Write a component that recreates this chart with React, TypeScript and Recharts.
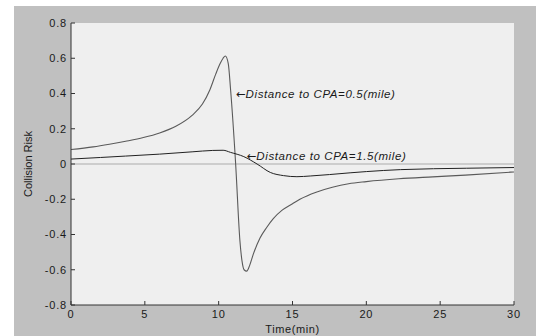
import { LineChart, Line, XAxis, YAxis, CartesianGrid, ReferenceLine, ReferenceDot } from "recharts";

// time (min) and collision risk
const timeNear = [0, 1.5, 2.6, 3.7, 4.9, 6, 7.1, 8.2, 8.9, 9.4, 9.8, 10.1, 10.3, 10.45, 10.65, 10.81, 11.15, 11.44, 11.58, 11.72, 11.9, 12.1, 12.34, 12.8, 13.25, 13.7, 14.3, 15, 15.5, 16.6, 17.7, 18.8, 20, 22.2, 24.5, 26.7, 30];
const riskNear = [0.082, 0.097, 0.112, 0.129, 0.15, 0.176, 0.214, 0.276, 0.34, 0.42, 0.51, 0.57, 0.6, 0.613, 0.57, 0.418, 0.0, -0.437, -0.55, -0.6, -0.608, -0.575, -0.513, -0.42, -0.36, -0.31, -0.262, -0.225, -0.2, -0.16, -0.132, -0.112, -0.1, -0.084, -0.073, -0.063, -0.045];

const timeFar = [0, 2, 3.7, 6, 8.2, 9.6, 10.3, 10.8, 11.7, 12.6, 13.5, 14.4, 15.3, 16.2, 17.5, 18.9, 20, 22.3, 26.8, 30];
const riskFar = [0.028, 0.037, 0.045, 0.056, 0.069, 0.077, 0.078, 0.066, 0.042, 0.0, -0.048, -0.066, -0.072, -0.068, -0.06, -0.05, -0.043, -0.032, -0.024, -0.02];

const xTicks = [0, 5, 10, 15, 20, 25, 30];
const yTicks = [-0.8, -0.6, -0.4, -0.2, 0, 0.2, 0.4, 0.6, 0.8];

const labelNear = "Distance to CPA=0.5(mile)";
const labelFar = "Distance to CPA=1.5(mile)";

const nearData = timeNear.map((t, i) => ({ t, risk: riskNear[i] }));
const farData = timeFar.map((t, i) => ({ t, risk: riskFar[i] }));

const font = "Liberation Sans, Arial, sans-serif";
const tickFont = { fontSize: 11, fill: "#1a1a1a", fontFamily: font, letterSpacing: 0.8 };

function noteLabel(text: string) {
  return (props: any) => {
    const vb = props.viewBox || {};
    return (
      <text x={vb.x} y={vb.y} dy="0.35em" fontSize={11.5} fontStyle="italic" fontFamily={font} fill="#1a1a1a">
        <tspan fontFamily="DejaVu Sans" fontStyle="normal">{"\u2190"}</tspan>
        <tspan letterSpacing={0.6}>{text}</tspan>
      </text>
    );
  };
}

function yTitle(props: any) {
  const vb = props.viewBox || {};
  const cy = vb.y + vb.height / 2;
  return (
    <text
      x={14}
      y={cy}
      transform={`rotate(-90, 14, ${cy})`}
      textAnchor="middle"
      dominantBaseline="central"
      fontSize={11}
      fontFamily={font}
      fill="#1a1a1a"
    >
      Collision Risk
    </text>
  );
}

export default function App() {
  return (
    <div style={{ position: "absolute", left: 0, top: 0, width: 536, height: 336, background: "#ffffff" }}>
      <div style={{ position: "absolute", left: 14, top: 6, width: 522, height: 330, background: "#c0c0c0" }}>
        <LineChart width={522} height={330} margin={{ top: 17, right: 22, bottom: 0, left: 0 }}>
          <CartesianGrid horizontal={false} vertical={false} fill="#efefef" />
          <XAxis
            xAxisId="bottom"
            dataKey="t"
            type="number"
            domain={[0, 30]}
            ticks={xTicks}
            interval={0}
            height={31}
            tickSize={-4}
            tickMargin={9}
            tick={tickFont}
            axisLine={{ stroke: "#333" }}
            tickLine={{ stroke: "#333" }}
            allowDataOverflow
            label={{ value: "Time(min)", position: "insideBottom", offset: 3, fontSize: 11, fill: "#1a1a1a", letterSpacing: 0.6, fontFamily: font }}
          />
          <XAxis
            xAxisId="top"
            orientation="top"
            dataKey="t"
            type="number"
            domain={[0, 30]}
            ticks={xTicks}
            interval={0}
            height={0}
            tickSize={-4}
            tick={false}
            axisLine={{ stroke: "#333" }}
            tickLine={{ stroke: "#333" }}
          />
          <YAxis
            yAxisId="left"
            type="number"
            domain={[-0.8, 0.8]}
            ticks={yTicks}
            interval={0}
            width={57}
            tickSize={-4}
            tickMargin={8}
            tick={tickFont}
            axisLine={{ stroke: "#333" }}
            tickLine={{ stroke: "#333" }}
            allowDataOverflow
            label={{ content: yTitle }}
          />
          <YAxis
            yAxisId="right"
            orientation="right"
            type="number"
            domain={[-0.8, 0.8]}
            ticks={yTicks}
            interval={0}
            width={0}
            tickSize={-4}
            tick={false}
            axisLine={{ stroke: "#333" }}
            tickLine={{ stroke: "#333" }}
          />
          <ReferenceLine xAxisId="bottom" yAxisId="left" y={0} stroke="#cdcdcd" strokeWidth={2} />
          <Line
            xAxisId="bottom"
            yAxisId="left"
            data={nearData}
            dataKey="risk"
            type="monotone"
            stroke="#5a5a5a"
            strokeWidth={1.1}
            dot={false}
            isAnimationActive={false}
          />
          <Line
            xAxisId="bottom"
            yAxisId="left"
            data={farData}
            dataKey="risk"
            type="monotone"
            stroke="#222222"
            strokeWidth={1}
            dot={false}
            isAnimationActive={false}
          />
          <ReferenceDot xAxisId="bottom" yAxisId="left" x={11.17} y={0.399} r={0} fill="none" stroke="none" label={{ content: noteLabel(labelNear) }} />
          <ReferenceDot xAxisId="bottom" yAxisId="left" x={11.9} y={0.047} r={0} fill="none" stroke="none" label={{ content: noteLabel(labelFar) }} />
        </LineChart>
      </div>
    </div>
  );
}
